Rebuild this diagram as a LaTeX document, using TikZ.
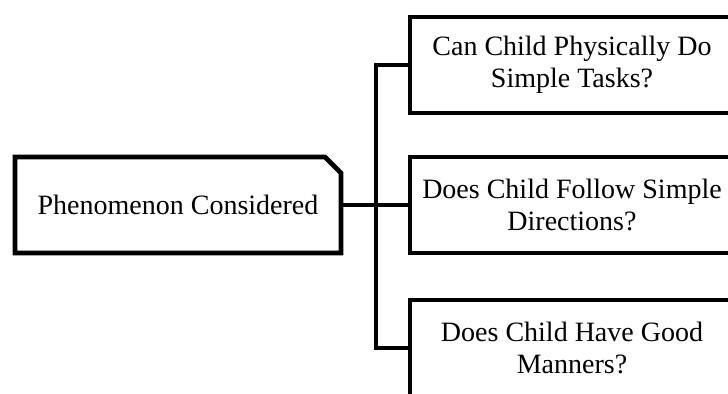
\documentclass[tikz,border=0pt]{standalone}
\usepackage{fontspec}
\setmainfont{Liberation Serif}
\usetikzlibrary{positioning}

\begin{document}
\begin{tikzpicture}[x=1pt,y=1pt,line width=2.3pt,node distance=22pt]

	\tikzstyle{topic}=[rectangle,minimum width=163pt,minimum height=48pt,inner sep=0pt,outer sep=0pt,font=\fontsize{14}{16}\selectfont]
	\tikzstyle{question}=[rectangle,draw=black,minimum width=162pt,minimum height=48pt,align=center,inner sep=0pt,outer sep=0pt,font=\fontsize{14}{16}\selectfont]

	\useasboundingbox (0,0) rectangle (364,196.5);
	\clip (0,0) rectangle (364,196.5);

	\node [topic] (ph) at (89,94) {Phenomenon Considered};
	\draw (ph.north west) -- ([xshift=-8pt]ph.north east) -- ([yshift=-8pt]ph.north east)
		-- (ph.south east) -- (ph.south west) -- cycle;

	\node [question] (q2) [right=34.5pt of ph] {Does Child Follow Simple\\Directions?};
	\node [question] (q1) [above=of q2] {Can Child Physically Do\\Simple Tasks?};
	\node [question] (q3) [below=23.5pt of q2] {Does Child Have Good\\Manners?};

	\coordinate [right=17.5pt of ph] (fork);
	\draw (ph.east) -- (fork) -- (q2.west);
	\draw (q1.west) -| (fork) |- (q3.west);
\end{tikzpicture}
\end{document}
